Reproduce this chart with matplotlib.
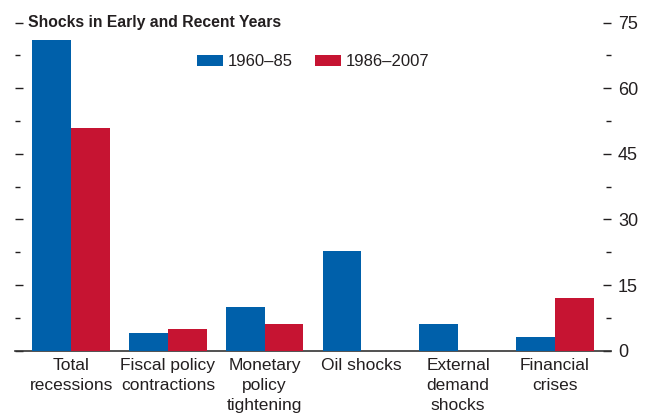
import matplotlib
matplotlib.use("Agg")
import matplotlib.pyplot as plt
from matplotlib.ticker import MultipleLocator
from matplotlib.patches import Patch
import numpy as np

plt.rcParams["font.family"] = ["Liberation Sans Narrow", "Liberation Sans", "DejaVu Sans"]

categories = ["Total\nrecessions", "Fiscal policy\ncontractions", "Monetary\npolicy\ntightening",
              "Oil shocks", "External\ndemand\nshocks", "Financial\ncrises"]
early = [71.1, 4.1, 10.0, 22.9, 6.2, 3.2]     # 1960-85
recent = [51.0, 5.0, 6.2, 0.0, 0.0, 12.1]     # 1986-2007
series_labels = ["1960\u201385", "1986\u20132007"]
title = "Shocks in Early and Recent Years"

BLUE = "#0060AA"
RED = "#C61432"
TXT = "#231F20"

fig = plt.figure(figsize=(6.49, 4.15), dpi=100)
ax = fig.add_axes([15/649, 1 - 350.7/415, (611 - 15)/649, (350.7 - 22.7)/415])

x = np.arange(len(categories))
w = 0.40
ax.bar(x - w/2, early, width=w, color=BLUE, linewidth=0, zorder=3)
ax.bar(x + w/2, recent, width=w, color=RED, linewidth=0, zorder=3)

ax.set_xlim(-0.58, 5.58)
ax.set_ylim(0, 75)

for s in ("top", "left", "right"):
    ax.spines[s].set_visible(False)
ax.spines["bottom"].set_color("#333333")
ax.spines["bottom"].set_linewidth(1.2)

ax.yaxis.set_major_locator(MultipleLocator(15))
ax.yaxis.set_minor_locator(MultipleLocator(7.5))
ax.tick_params(axis="y", which="both", direction="in", left=True, right=True,
               labelleft=False, labelright=True, color=TXT, width=1.0,
               labelsize=13, labelcolor=TXT, pad=5)
ax.tick_params(axis="y", which="major", length=5.8)
ax.tick_params(axis="y", which="minor", length=3.5)

ax.set_xticks(x)
ax.set_xticklabels(categories, fontsize=12.5, color=TXT, linespacing=1.45, va="top")
ax.tick_params(axis="x", length=0, pad=5)

handles = [Patch(facecolor=BLUE, edgecolor="none"), Patch(facecolor=RED, edgecolor="none")]
ax.legend(handles, series_labels, loc="center", bbox_to_anchor=(0.5, 0.881), ncol=2,
          frameon=False, fontsize=12, handlelength=1.56, handleheight=0.6,
          handletextpad=0.3, columnspacing=1.3, labelcolor=TXT)

fig.text(28/649, 1 - 27/415, title, fontsize=11.3, fontweight="bold", color=TXT,
         ha="left", va="baseline")

fig.savefig("out.png", dpi=100)
